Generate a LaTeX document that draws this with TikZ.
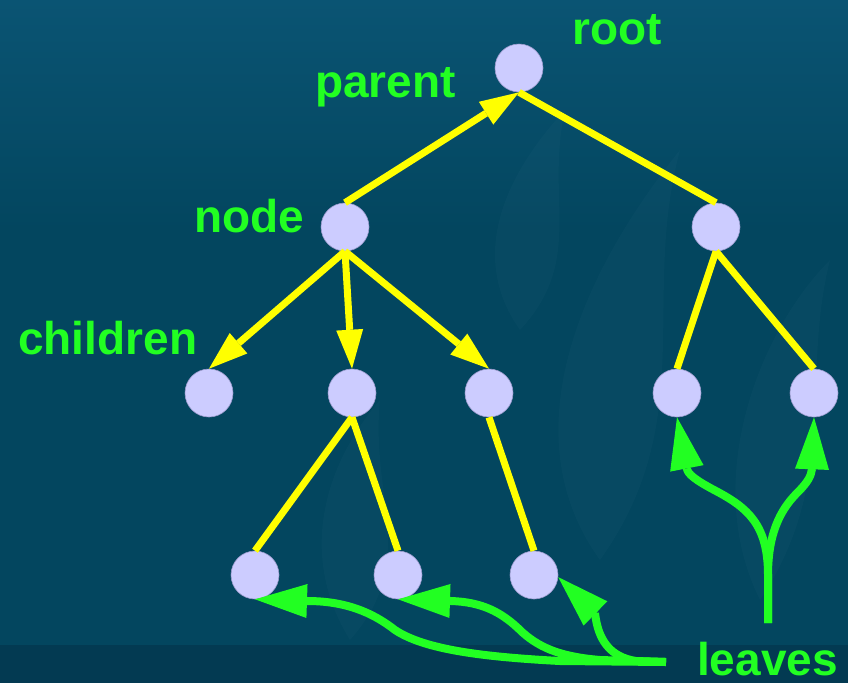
\documentclass[tikz,border=0pt]{standalone}
\usepackage{fontspec}
\setmainfont{Liberation Sans}
\usetikzlibrary{arrows.meta}
\definecolor{bgmid}{HTML}{03465F}
\definecolor{bgtop}{HTML}{0A5473}
\definecolor{bgbot}{HTML}{033A52}
\definecolor{nodefill}{HTML}{CCCCFF}
\definecolor{nodeline}{HTML}{9A9ACC}
\definecolor{lbl}{HTML}{22FF22}
\definecolor{edgey}{HTML}{FFFF00}

\begin{document}
\begin{tikzpicture}[x=1pt,y=-1pt,
  vert/.style={circle, fill=nodefill, draw=nodeline, line width=0.6pt,
               minimum size=48pt, inner sep=0pt},
  lab/.style={text=lbl, font=\fontsize{46}{50}\selectfont\bfseries,
              anchor=base west, inner sep=0pt},
  link/.style={draw=edgey, line width=7pt},
  yarrow/.style={link, -{Triangle[length=39pt,width=27pt,line width=0pt]}},
  hint/.style={draw=lbl, line width=8pt, line join=round,
               -{Triangle[length=52pt,width=34pt,line width=0pt]}},
  flame/.style={fill=white, opacity=0.02}
]
% backdrop
\useasboundingbox (0,0) rectangle (848,683);
\fill[bgmid] (0,0) rectangle (848,683);
\shade[top color=bgtop, bottom color=bgmid] (0,0) rectangle (848,230);
\fill[bgbot] (0,645) rectangle (848,683);
% faint flame motifs
\fill[flame] (520,330) .. controls (470,260) and (500,180) .. (565,110)
             .. controls (545,200) and (585,260) .. (520,330) -- cycle;
\fill[flame] (600,560) .. controls (520,450) and (560,300) .. (680,150)
             .. controls (640,300) and (700,420) .. (600,560) -- cycle;
\fill[flame] (760,600) .. controls (700,480) and (760,330) .. (830,260)
             .. controls (800,380) and (840,480) .. (760,600) -- cycle;
\fill[flame] (350,640) .. controls (300,560) and (320,470) .. (380,400)
             .. controls (370,500) and (420,560) .. (350,640) -- cycle;

% tree vertices
\node[vert] (root) at (519,68) {};
\node[vert] (na) at (345,227) {};
\node[vert] (nb) at (716,227) {};
\node[vert] (c1) at (209,393) {};
\node[vert] (c2) at (352,393) {};
\node[vert] (c3) at (489,393) {};
\node[vert] (c4) at (677,393) {};
\node[vert] (c5) at (814,393) {};
\node[vert] (l1) at (255,575) {};
\node[vert] (l2) at (398,575) {};
\node[vert] (l3) at (534,575) {};

% tree edges
\draw[yarrow] (na.north) -- (root.south);
\draw[link] (root.south) -- (nb.north);
\draw[yarrow] (na.south) -- (c1.north);
\draw[yarrow] (na.south) -- (c2.north);
\draw[yarrow] (na.south) -- (c3.north);
\draw[link] (nb.south) -- (c4.north);
\draw[link] (nb.south) -- (c5.north);
\draw[link] (c2.south) -- (l1.north);
\draw[link] (c2.south) -- (l2.north);
\draw[link] (c3.south) -- (l3.north);

% labels
\node[lab] (troot) at (572,44) {root};
\node[lab] (tparent) at (315,97) {parent};
\node[lab] (tnode) at (194,232) {node};
\node[lab] (tchildren) at (18,354) {children};
\node[lab] (tleaves) at (697,675) {leaves};

% pointers to the leaves
\coordinate (fork) at (768,623);
\coordinate (tail) at (666,662);
\draw[hint] (fork) -- (768,575) .. controls (768,525) and (748,508) .. (716,491)
            .. controls (695,480) and (688,474) .. (687,469) -- (c4.south);
\draw[hint] (fork) -- (768,575) .. controls (768,528) and (784,506) .. (798,492)
            .. controls (808,482) and (811,476) .. (812,469) -- (c5.south);
\draw[hint] (tail) -- (560,661) .. controls (485,657) and (425,650) .. (395,630)
            .. controls (372,612) and (345,601) .. (307,601) -- (l1.south);
\draw[hint] (tail) -- (600,660) .. controls (565,657) and (542,650) .. (522,632)
            .. controls (502,612) and (482,602) .. (451,601) -- (l2.south);
\draw[hint] (tail) -- (636,661) .. controls (610,657) and (598,640) .. (595,613)
            -- (l3.-5);
\end{tikzpicture}
\end{document}
